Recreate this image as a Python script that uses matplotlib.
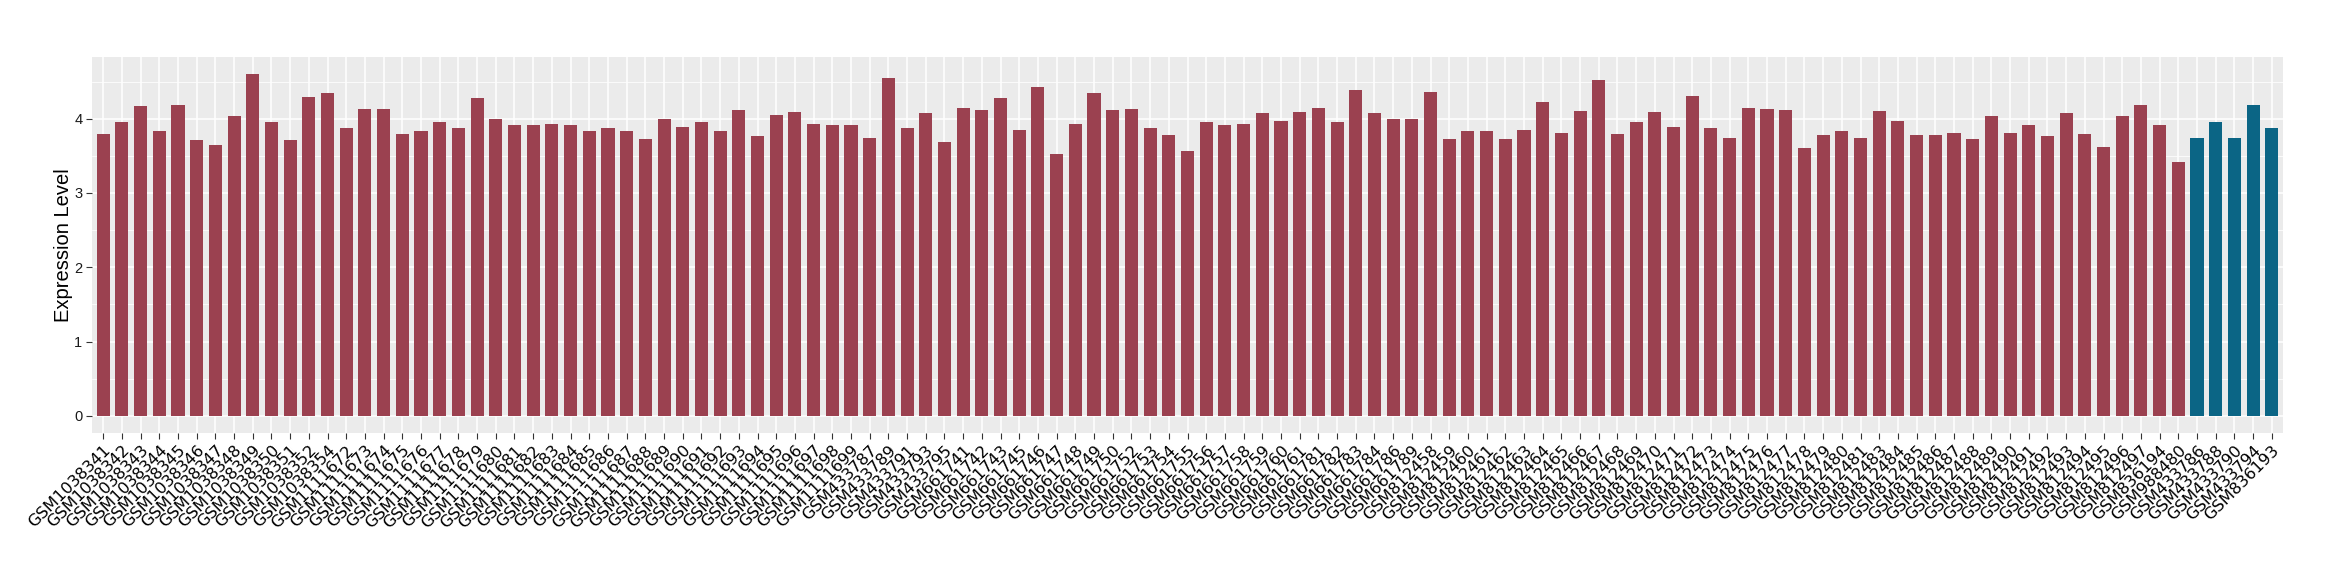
import numpy as np
import matplotlib
matplotlib.use("Agg")
import matplotlib.pyplot as plt
from matplotlib.ticker import MultipleLocator

# échantillons du premier groupe (barres rouges)
samples_a = [
    "GSM1038341", "GSM1038342", "GSM1038343", "GSM1038344", "GSM1038345", "GSM1038346",
    "GSM1038347", "GSM1038348", "GSM1038349", "GSM1038350", "GSM1038351", "GSM1038352",
    "GSM1038354",
    "GSM1111672", "GSM1111673", "GSM1111674", "GSM1111675", "GSM1111676", "GSM1111677",
    "GSM1111678", "GSM1111679", "GSM1111680", "GSM1111681", "GSM1111682", "GSM1111683",
    "GSM1111684", "GSM1111685", "GSM1111686", "GSM1111687", "GSM1111688", "GSM1111689",
    "GSM1111690", "GSM1111691", "GSM1111692", "GSM1111693", "GSM1111694", "GSM1111695",
    "GSM1111696", "GSM1111697", "GSM1111698", "GSM1111699",
    "GSM433787", "GSM433789", "GSM433791", "GSM433793", "GSM433795",
    "GSM661741", "GSM661742", "GSM661743", "GSM661745", "GSM661746", "GSM661747",
    "GSM661748", "GSM661749", "GSM661750", "GSM661752", "GSM661753", "GSM661754",
    "GSM661755", "GSM661756", "GSM661757", "GSM661758", "GSM661759", "GSM661760",
    "GSM661761", "GSM661781", "GSM661782", "GSM661783", "GSM661784", "GSM661786",
    "GSM661789",
    "GSM812458", "GSM812459", "GSM812460", "GSM812461", "GSM812462", "GSM812463",
    "GSM812464", "GSM812465", "GSM812466", "GSM812467", "GSM812468", "GSM812469",
    "GSM812470", "GSM812471", "GSM812472", "GSM812473", "GSM812474", "GSM812475",
    "GSM812476", "GSM812477", "GSM812478", "GSM812479", "GSM812480", "GSM812481",
    "GSM812483", "GSM812484", "GSM812485", "GSM812486", "GSM812487", "GSM812488",
    "GSM812489", "GSM812490", "GSM812491", "GSM812492", "GSM812493", "GSM812494",
    "GSM812495", "GSM812496", "GSM812497",
    "GSM836194", "GSM988480",
]
values_a = [
    3.79, 3.95, 4.17, 3.83, 4.19, 3.71, 3.64, 4.03, 4.60, 3.96, 3.71, 4.29, 4.35,
    3.88, 4.13, 4.13, 3.80, 3.83, 3.95, 3.88, 4.28, 3.99, 3.91, 3.92, 3.93, 3.91,
    3.83, 3.87, 3.84, 3.72, 3.99, 3.89, 3.96, 3.84, 4.12, 3.77, 4.05, 4.09, 3.93,
    3.92, 3.91,
    3.74, 4.55, 3.87, 4.07, 3.69,
    4.15, 4.12, 4.28, 3.85, 4.42, 3.53, 3.93, 4.35, 4.12, 4.13, 3.88, 3.78, 3.57,
    3.96, 3.92, 3.93, 4.08, 3.97, 4.09, 4.15, 3.96, 4.38, 4.07, 4.00, 4.00,
    4.36, 3.73, 3.83, 3.83, 3.72, 3.85, 4.22, 3.81, 4.11, 4.52, 3.80, 3.96, 4.09,
    3.89, 4.30, 3.88, 3.74, 4.15, 4.13, 4.12, 3.60, 3.78, 3.83, 3.74, 4.11, 3.97,
    3.78, 3.78, 3.81, 3.73, 4.04, 3.81, 3.91, 3.77, 4.08, 3.80, 3.62, 4.03, 4.19,
    3.91, 3.42,
]
# second groupe (barres bleues)
samples_b = ["GSM433786", "GSM433788", "GSM433790", "GSM433794", "GSM836193"]
values_b = [3.74, 3.96, 3.74, 4.19, 3.88]

color_a = "#9B4150"
color_b = "#0B6585"

samples = samples_a + samples_b
values = np.array(values_a + values_b)
colors = [color_a] * len(samples_a) + [color_b] * len(samples_b)
x = np.arange(len(samples))

plt.rcParams["font.family"] = ["Liberation Sans", "DejaVu Sans"]

fig = plt.figure(figsize=(23.4, 5.8), dpi=100)
ax = fig.add_axes([92 / 2340, 1 - 433 / 580, (2283 - 92) / 2340, (433 - 57) / 580])
ax.set_facecolor("#EBEBEB")
ax.set_axisbelow(True)

ax.bar(x, values, width=0.7, color=colors)

# limites façon ggplot
vmax = values.max()
ax.set_ylim(-0.05 * vmax, vmax * 1.05)
ax.set_xlim(-0.6, len(samples) - 0.4)

ax.yaxis.set_major_locator(MultipleLocator(1))
ax.yaxis.set_minor_locator(MultipleLocator(0.5))
ax.set_xticks(x)
ax.set_xticklabels(samples, rotation=45, ha="right", rotation_mode="anchor",
                   fontsize=11.7, color="black", family="DejaVu Sans")
ax.tick_params(axis="y", labelsize=10.5, labelcolor="#1A1A1A")
ax.tick_params(axis="both", which="major", length=4, width=0.8, color="#333333", pad=3)
ax.tick_params(axis="y", which="minor", length=0)

ax.grid(which="major", color="white", linewidth=1.1)
ax.grid(which="minor", axis="y", color="white", linewidth=0.55)
for s in ax.spines.values():
    s.set_visible(False)

ax.set_ylabel("Expression Level", fontsize=14.5)
ax.yaxis.set_label_coords(-0.0087, 0.5)

fig.savefig("out.png", dpi=100)
